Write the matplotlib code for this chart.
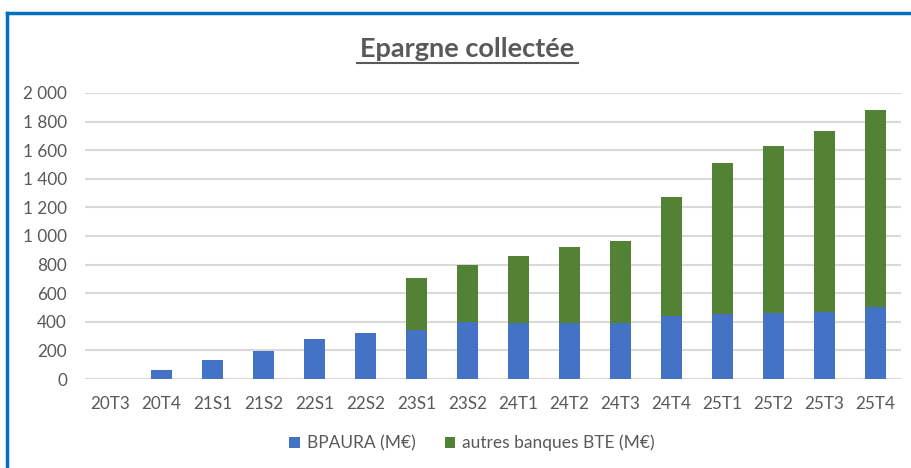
import matplotlib
matplotlib.use("Agg")
import matplotlib.pyplot as plt
import numpy as np
from matplotlib.lines import Line2D
from matplotlib.ticker import FuncFormatter

plt.rcParams['font.family'] = ['Lato', 'DejaVu Sans']

# données (M€)
periodes = ['20T3', '20T4', '21S1', '21S2', '22S1', '22S2', '23S1', '23S2',
            '24T1', '24T2', '24T3', '24T4', '25T1', '25T2', '25T3', '25T4']
bpaura = [0, 65, 131, 196, 280, 324, 345, 397, 390, 390, 390, 441, 455, 462, 469, 502]
autres = [0, 0, 0, 0, 0, 0, 362, 403, 469, 534, 576, 835, 1055, 1169, 1262, 1381]

BLEU = '#4472C4'
VERT = '#548235'
GRIS = '#595959'

fig = plt.figure(figsize=(9.12, 4.68), dpi=100)
ax = fig.add_axes([85 / 912, 1 - 379 / 468, 816 / 912, 286 / 468])

x = np.arange(len(periodes))
ax.bar(x, bpaura, width=0.41, color=BLEU, label='BPAURA (M€)', zorder=3)
ax.bar(x, autres, width=0.41, bottom=bpaura, color=VERT,
       label='autres banques BTE (M€)', zorder=3)

ax.set_xlim(-0.5, len(periodes) - 0.5)
ax.set_ylim(0, 2000)
ax.set_yticks(np.arange(0, 2001, 200))
ax.yaxis.set_major_formatter(FuncFormatter(lambda v, p: f"{v:,.0f}".replace(',', ' ')))
ax.set_xticks(x)
ax.set_xticklabels(periodes)
ax.tick_params(axis='both', length=0, colors=GRIS, labelsize=12.3)
ax.tick_params(axis='y', pad=13)
ax.tick_params(axis='x', pad=12)
ax.grid(axis='y', color='#D9D9D9', linewidth=1.5, zorder=0)
for s in ax.spines.values():
    s.set_visible(False)

fig.text(467 / 912, 1 - 49 / 468, 'Epargne collectée', ha='center', va='center',
         fontsize=19.5, fontweight='bold', color=GRIS)
fig.add_artist(Line2D([357 / 912, 578 / 912], [1 - 63 / 468, 1 - 63 / 468],
                      color=GRIS, linewidth=1.5))

fig.legend(loc='center', bbox_to_anchor=(472 / 912, 1 - 443 / 468), ncol=2,
           frameon=False, fontsize=12.5, labelcolor=GRIS, handlelength=0.6,
           handleheight=0.6, columnspacing=1.7, handletextpad=0.4)

# cadre bleu
fig.add_artist(Line2D([7 / 912, 7 / 912], [0, 1 - 13 / 468], color='#0070C0', linewidth=2.5))
fig.add_artist(Line2D([7 / 912, 1], [1 - 13 / 468, 1 - 13 / 468], color='#0070C0', linewidth=2.5))

fig.savefig('out.png', dpi=100)
